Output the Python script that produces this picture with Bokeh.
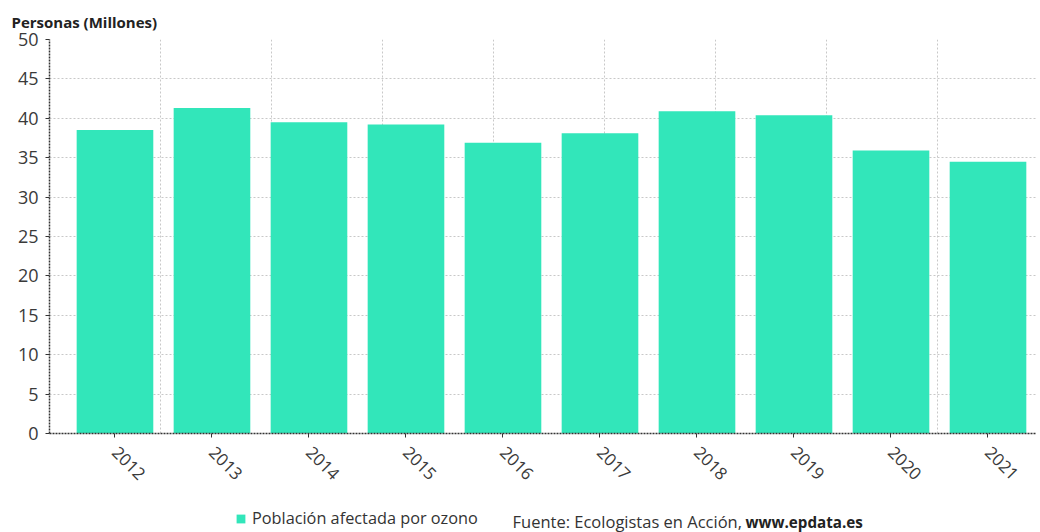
from bokeh.plotting import figure
from bokeh.models import Range1d, FixedTicker, Legend, LegendItem, ColumnDataSource, Title
from bokeh.layouts import column
from bokeh.core.properties import value
from bokeh.embed import file_html
from bokeh.resources import INLINE
import math

years = ["2012", "2013", "2014", "2015", "2016", "2017", "2018", "2019", "2020", "2021"]
values = [38.5, 41.3, 39.5, 39.2, 36.9, 38.1, 40.9, 40.4, 35.9, 34.5]
y_ticks = [0, 5, 10, 15, 20, 25, 30, 35, 40, 45, 50]
title_text = "Personas (Millones)"
series_name = "Población afectada por ozono"
source_text = "Fuente: Ecologistas en Acción,"
source_link = "www.epdata.es"

FONT = "Open Sans"
BAR = "#32E6BA"
TXT = "#333333"

xs = list(range(len(years)))
src = ColumnDataSource(dict(x=xs, top=values))

FRAME_L, FRAME_R = 49, 1036
x_start = -0.675
x_end = len(years) - 0.5
p = figure(width=1040, height=495, output_backend="svg", toolbar_location=None,
           x_range=Range1d(x_start, x_end), y_range=Range1d(0, 50),
           min_border_left=FRAME_L, min_border_right=1040 - FRAME_R, min_border_top=39,
           min_border_bottom=62)
p.outline_line_color = None
p.background_fill_color = "white"

p.title = Title(text=title_text, align="left", offset=-38, standoff=15,
                text_font=FONT, text_font_size="15px", text_font_style="bold",
                text_color="#222222")

r = p.vbar(x="x", top="top", width=0.79, source=src, fill_color=BAR, line_color=None)

# axes
p.yaxis.ticker = FixedTicker(ticks=y_ticks)
p.yaxis.major_label_text_font = FONT
p.yaxis.major_label_text_font_size = "18px"
p.yaxis.major_label_text_color = "#3a3a3a"
p.yaxis.axis_line_color = "#333333"
p.yaxis.axis_line_dash = "2 1"
p.yaxis.axis_line_width = 1.5
p.yaxis.major_tick_line_color = "#333333"
p.yaxis.major_tick_out = 4
p.yaxis.major_tick_in = 0
p.yaxis.minor_tick_line_color = None
p.yaxis.major_label_standoff = 7

p.xaxis.ticker = FixedTicker(ticks=xs)
p.xaxis.major_label_overrides = {i: y for i, y in enumerate(years)}
p.xaxis.major_label_orientation = -math.pi / 4
p.xaxis.major_label_text_font = FONT
p.xaxis.major_label_text_font_size = "17px"
p.xaxis.major_label_text_color = "#3a3a3a"
p.xaxis.axis_line_color = "#333333"
p.xaxis.axis_line_dash = "2 1"
p.xaxis.axis_line_width = 1.5
p.xaxis.major_tick_line_color = "#333333"
p.xaxis.major_tick_out = 4
p.xaxis.major_tick_in = 0
p.xaxis.minor_tick_line_color = None
p.xaxis.major_label_standoff = 12

# grids
p.ygrid.ticker = FixedTicker(ticks=y_ticks)
p.ygrid.grid_line_color = "#c8c8c8"
p.ygrid.grid_line_dash = "2 2"
grid_step = 1.144
p.xgrid.ticker = FixedTicker(ticks=[x_start + k * grid_step for k in range(1, 9)])
p.xgrid.grid_line_color = "#c8c8c8"
p.xgrid.grid_line_dash = "2 2"

# footer: legend + source (its frame is aligned with the main frame by the column layout,
# so its x range is expressed in page pixels)
FH = 37
f = figure(width=1040, height=FH, output_backend="svg", toolbar_location=None,
           x_range=Range1d(FRAME_L, FRAME_R), y_range=Range1d(0, FH), min_border=0)
f.axis.visible = False
f.grid.visible = False
f.outline_line_color = None
swatch = f.vbar(x=[0], top=[0], width=0, fill_color=BAR, line_color=None)
legend = Legend(items=[LegendItem(label=series_name, renderers=[swatch])],
                location=(235 - FRAME_L, 3), orientation="horizontal", padding=0, margin=0,
                glyph_width=11, glyph_height=11, label_text_font=FONT, label_text_font_size="16.3px",
                label_text_color=TXT, border_line_color=None, background_fill_alpha=0,
                label_standoff=6, label_height=16)
f.add_layout(legend, "center")
f.text(x=[512], y=[11], text=[source_text], text_font=value(FONT), text_font_size="16.5px",
       text_color=TXT, text_baseline="middle", text_align="left")
f.text(x=[745], y=[11], text=[source_link], text_font=value(FONT), text_font_size="15.2px",
       text_font_style="bold", text_color="#222222", text_baseline="middle", text_align="left")

layout = column(p, f, spacing=0)
open("out.html", "w").write(file_html(layout, INLINE))
